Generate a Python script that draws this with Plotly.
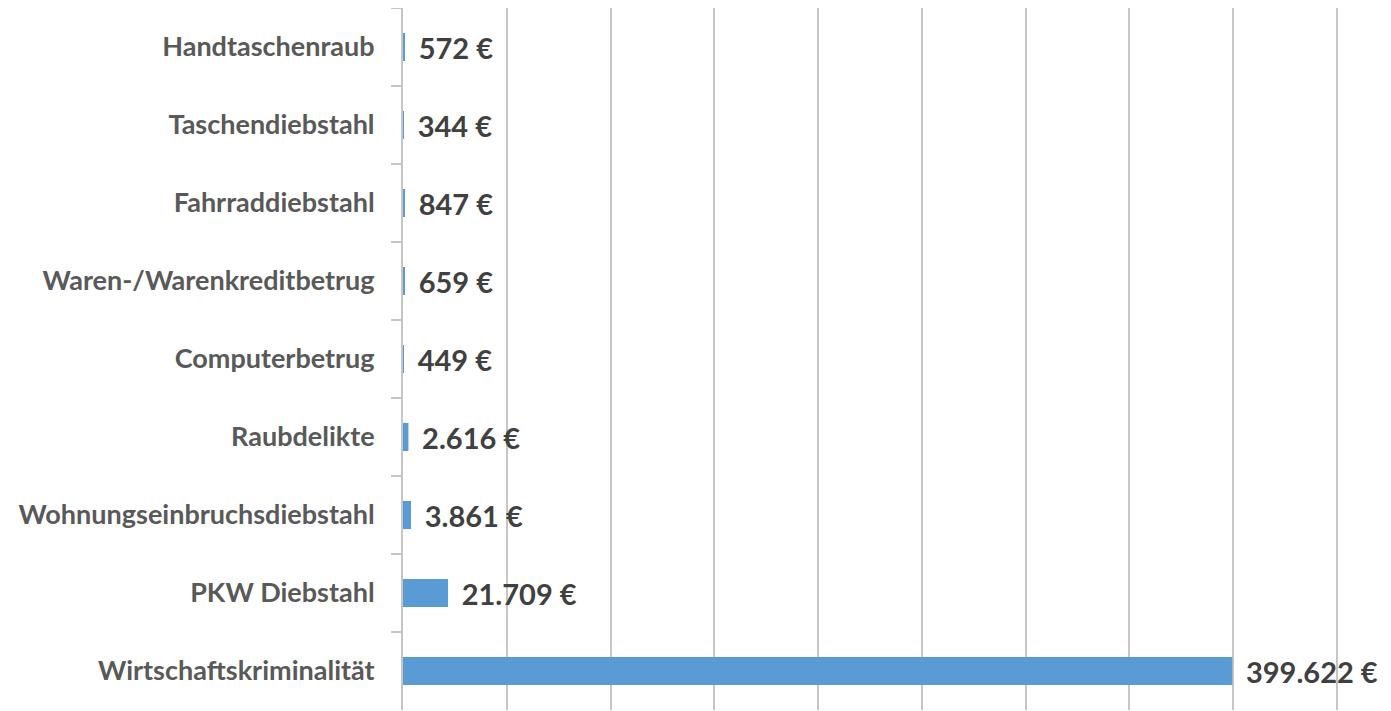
import plotly.graph_objects as go

categories = [
    "Handtaschenraub",
    "Taschendiebstahl",
    "Fahrraddiebstahl",
    "Waren-/Warenkreditbetrug",
    "Computerbetrug",
    "Raubdelikte",
    "Wohnungseinbruchsdiebstahl",
    "PKW Diebstahl",
    "Wirtschaftskriminalität",
]
values = [572, 344, 847, 659, 449, 2616, 3861, 21709, 399622]

labels = ["\u00a0\u2009" + f"{v:,}".replace(",", ".") + " €" for v in values]

fig = go.Figure(
    go.Bar(
        x=values,
        y=categories,
        orientation="h",
        marker=dict(color="#5B9BD5", line=dict(width=0)),
        text=labels,
        textposition="outside",
        textfont=dict(family="Lato", size=29, color="#404040", weight="bold"),
        cliponaxis=False,
        constraintext="none",
        hoverinfo="skip",
    )
)

# page body has an 8px default margin; figure size and margins compensate
fig.update_layout(
    width=1383,
    height=703,
    margin=dict(l=395, r=50, t=0, b=1, pad=0),
    plot_bgcolor="white",
    paper_bgcolor="white",
    bargap=0.64,
    showlegend=False,
)

fig.update_xaxes(
    range=[0, 452000],
    dtick=50000,
    showgrid=True,
    gridcolor="#c6c6c6",
    gridwidth=2,
    zeroline=False,
    showticklabels=False,
    showline=False,
    fixedrange=True,
)

fig.update_yaxes(
    categoryorder="array",
    categoryarray=categories,
    autorange="reversed",
    showline=True,
    linecolor="#c6c6c6",
    linewidth=2,
    ticks="outside",
    tickson="boundaries",
    ticklen=10,
    tickwidth=2,
    tickcolor="#c6c6c6",
    ticklabelstandoff=21,
    tickfont=dict(family="Lato", size=27, color="#595959", weight="bold"),
    showgrid=False,
    fixedrange=True,
)

fig.write_html("out.html")
